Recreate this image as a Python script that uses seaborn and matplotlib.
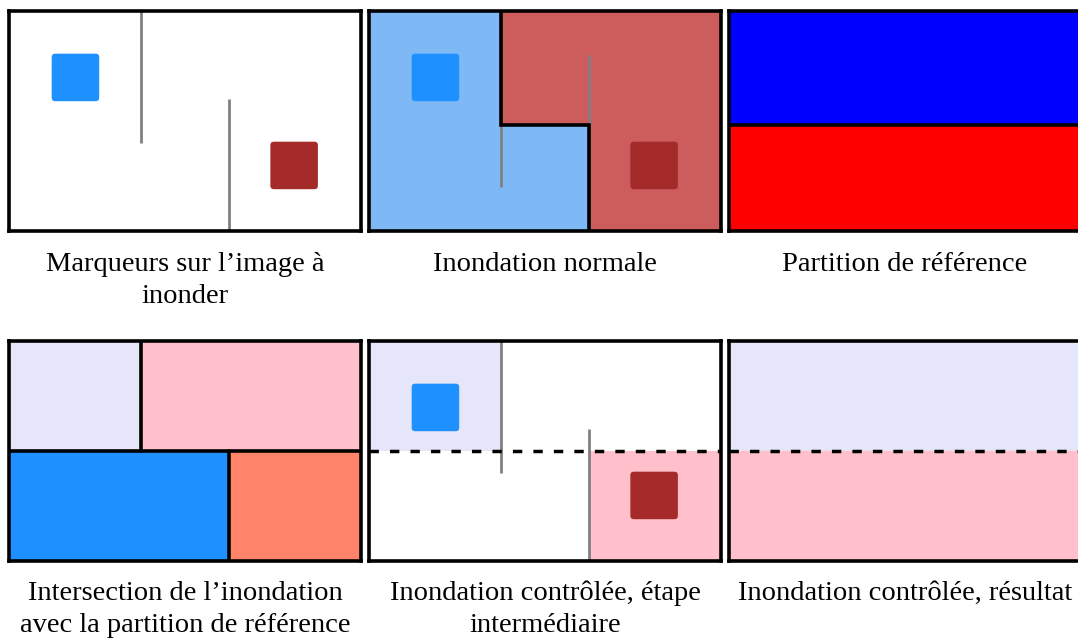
import matplotlib
matplotlib.use("Agg")
import matplotlib.pyplot as plt
from matplotlib.patches import FancyBboxPatch, Polygon
import seaborn as sns

sns.set_theme(style="white")
plt.rcParams['font.family'] = ['Liberation Serif', 'DejaVu Serif']

# ---------------- data (diagram units: 8 wide x 5 high, y from top) ----------------
captions = [
    "Marqueurs sur l\u2019image \u00e0\ninonder",
    "Inondation normale",
    "Partition de r\u00e9f\u00e9rence",
    "Intersection de l\u2019inondation\navec la partition de r\u00e9f\u00e9rence",
    "Inondation contr\u00f4l\u00e9e, \u00e9tape\ninterm\u00e9diaire",
    "Inondation contr\u00f4l\u00e9e, r\u00e9sultat",
]

marker_blue = (0.97, 0.97)   # top-left corner of blue marker
marker_red = (5.94, 2.97)    # top-left corner of red marker
marker_size = 1.08

walls_x = [3, 5]
walls_top = [0, 2]
walls_bottom = [3, 5]
walls2_top = [0, 1]        # walls as seen in the normal flooding panel
walls2_bottom = [4, 5]

ws_level = 2.6             # watershed step height (normal flooding)
ref_level_top = 2.6        # reference partition boundary
ref_level_bot = 2.5        # boundary in the bottom row panels

# regions of the normal flooding
flood_blue = [(0, 0), (3, 0), (3, ws_level), (5, ws_level), (5, 5), (0, 5)]
flood_red = [(3, 0), (8, 0), (8, 5), (5, 5), (5, ws_level), (3, ws_level)]
flood_edge = [(3, 0), (3, ws_level), (5, ws_level), (5, 5)]

# intersection regions
inter_regions = [
    ([(0, 0), (3, 0), (3, ref_level_bot), (0, ref_level_bot)], "#E6E6FA"),
    ([(3, 0), (8, 0), (8, ref_level_bot), (3, ref_level_bot)], "#FFC0CB"),
    ([(0, ref_level_bot), (5, ref_level_bot), (5, 5), (0, 5)], "#1E90FF"),
    ([(5, ref_level_bot), (8, ref_level_bot), (8, 5), (5, 5)], "#FF846A"),
]

# colours
c_blue_marker = "#1E90FF"
c_red_marker = "#A52A2A"
c_wall = "#808080"
c_flood_blue = "#7FB9F5"
c_flood_red = "#CD5C5C"
c_lavender = "#E6E6FA"
c_pink = "#FFC0CB"

# ---------------- figure ----------------
W, H = 1078, 641
fig = plt.figure(figsize=(W / 100, H / 100), dpi=100)

pw, ph = 352, 220
lefts = [9, 369, 729]
tops = [11, 341]


def make_ax(row, col):
    l, t = lefts[col], tops[row]
    ax = fig.add_axes([l / W, 1 - (t + ph) / H, pw / W, ph / H])
    ax.set_xlim(0, 8)
    ax.set_ylim(5, 0)
    ax.set_xticks([])
    ax.set_yticks([])
    ax.set_facecolor("white")
    for s in ax.spines.values():
        s.set_visible(True)
        s.set_color("black")
        s.set_linewidth(2.6)
        s.set_zorder(10)
    return ax


def marker(ax, xy, color):
    ax.add_patch(FancyBboxPatch(xy, marker_size, marker_size,
                                boxstyle="round,pad=0,rounding_size=0.08",
                                fc=color, ec="none", zorder=5))


def walls(ax, tops_, bottoms_, z=3):
    ax.vlines(walls_x, tops_, bottoms_, colors=c_wall, linewidth=2.0, zorder=z)


dash = (0, (2.7, 3.2))

# Panel 1: markers on image
ax = make_ax(0, 0)
walls(ax, walls_top, walls_bottom)
marker(ax, marker_blue, c_blue_marker)
marker(ax, marker_red, c_red_marker)

# Panel 2: normal flooding
ax = make_ax(0, 1)
ax.add_patch(Polygon(flood_blue, closed=True, fc=c_flood_blue, ec="none", zorder=1))
ax.add_patch(Polygon(flood_red, closed=True, fc=c_flood_red, ec="none", zorder=1))
walls(ax, walls2_top, walls2_bottom)
xs, ys = zip(*flood_edge)
ax.plot(xs, ys, color="black", linewidth=2.6, zorder=4, solid_joinstyle="miter")
marker(ax, marker_blue, c_blue_marker)
marker(ax, marker_red, c_red_marker)

# Panel 3: reference partition
ax = make_ax(0, 2)
ax.axhspan(0, ref_level_top, color="#0000FF", zorder=1)
ax.axhspan(ref_level_top, 5, color="#FF0000", zorder=1)
ax.axhline(ref_level_top, color="black", linewidth=2.6, zorder=4)

# Panel 4: intersection
ax = make_ax(1, 0)
for poly, col in inter_regions:
    ax.add_patch(Polygon(poly, closed=True, fc=col, ec="none", zorder=1))
ax.plot([3, 3], [0, ref_level_bot], color="black", linewidth=2.6, zorder=4)
ax.axhline(ref_level_bot, color="black", linewidth=2.6, zorder=4)
ax.plot([5, 5], [ref_level_bot, 5], color="black", linewidth=2.6, zorder=4)

# Panel 5: controlled flooding, intermediate step
ax = make_ax(1, 1)
ax.add_patch(Polygon(inter_regions[0][0], closed=True, fc=c_lavender, ec="none", zorder=1))
ax.add_patch(Polygon(inter_regions[3][0], closed=True, fc=c_pink, ec="none", zorder=1))
walls(ax, walls_top, walls_bottom)
ax.axhline(ref_level_bot, color="black", linewidth=2.5, linestyle=dash, zorder=4)
marker(ax, marker_blue, c_blue_marker)
marker(ax, marker_red, c_red_marker)

# Panel 6: controlled flooding, result
ax = make_ax(1, 2)
ax.axhspan(0, ref_level_bot, color=c_lavender, zorder=1)
ax.axhspan(ref_level_bot, 5, color=c_pink, zorder=1)
ax.axhline(ref_level_bot, color="black", linewidth=2.5, linestyle=dash, zorder=4)

# captions
baselines = [271, 600]
line_gap = 32
for i, cap in enumerate(captions):
    row, col = divmod(i, 3)
    cx = (lefts[col] + pw / 2) / W
    for j, line in enumerate(cap.split("\n")):
        y = baselines[row] + j * line_gap
        fig.text(cx, 1 - y / H, line, ha="center", va="baseline",
                 fontsize=20.5, color="black")

fig.savefig("out.png", dpi=100)
